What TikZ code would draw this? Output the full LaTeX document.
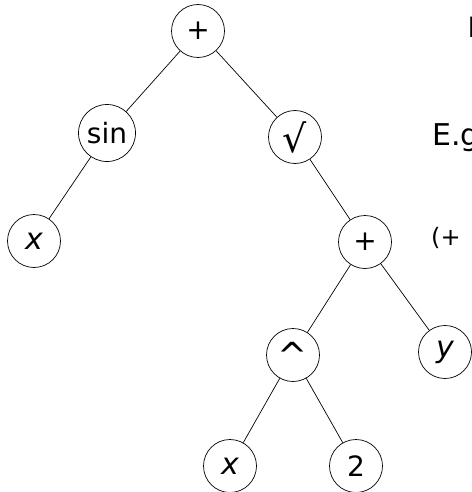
\documentclass[tikz,border=0pt]{standalone}
\usepackage{fontspec}
\setmainfont{DejaVu Sans}

\begin{document}
\begin{tikzpicture}[x=1pt,y=-1pt,
	op/.style={draw, circle, line width=0.7pt, minimum size=53pt, inner sep=1pt, font=\fontsize{28}{28}\selectfont},
	opwide/.style={op, minimum size=57pt},
	var/.style={op, font=\fontsize{30}{30}\selectfont\itshape}]
	\useasboundingbox (0,0) rectangle (471,492);
	% expression tree
	\foreach
	\name/\x/\y/\kind/\lbl
	in
	{
		root/198/31/op/+,
		sin/107/133/opwide/sin,
		sqrt/295/137/op/{\fontsize{38}{38}\selectfont\symbol{"221A}},
		xa/34/241/var/x,
		plus/365/242/op/+,
		pow/293/355/op/{\fontsize{36}{36}\selectfont\textasciicircum},
		yv/445/352/var/y,
		xb/230/466/var/x,
		two/356/466/op/2
	}
	{
		\node[\kind] (\name) at (\x,\y) {\lbl};
	}
	\foreach \a/\b in {root/sin, root/sqrt, sin/xa, sqrt/plus, plus/pow, plus/yv, pow/xb, pow/two}
		\draw[line width=0.7pt] (\a) -- (\b);
	% slide text, cut off at the right edge
	\node[anchor=base west, inner sep=0, font=\fontsize{28}{28}\selectfont] (title) at (467.5,38) {E};
	\node[anchor=base west, inner sep=0, font=\fontsize{30}{30}\selectfont] (eg) at (432,145) {E.g.};
	\node[anchor=base west, inner sep=0, font=\fontsize{24}{24}\selectfont] (sexpr) at (431,245) {(+};
\end{tikzpicture}
\end{document}
